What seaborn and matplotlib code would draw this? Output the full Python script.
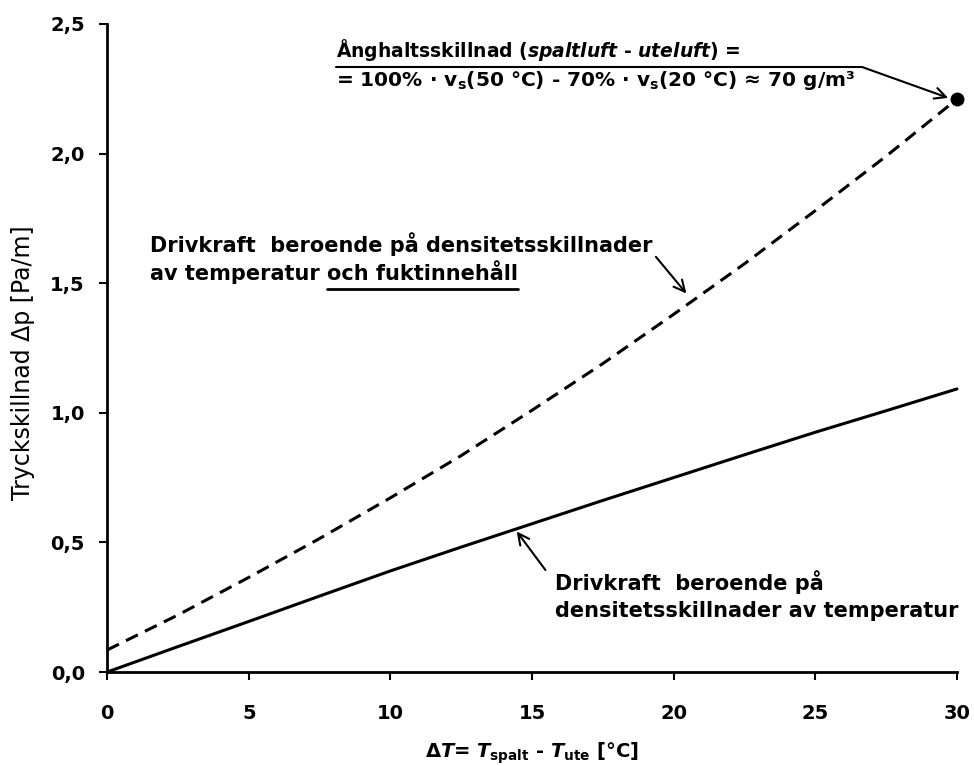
import matplotlib
matplotlib.use("Agg")
import matplotlib.pyplot as plt
import seaborn as sns
import pandas as pd
from matplotlib.lines import Line2D

# ---- data ----
delta_T = [0, 2.5, 5, 7.5, 10, 12.5, 15, 17.5, 20, 22.5, 25, 27.5, 30]
dp_temp = [0.0, 0.098, 0.195, 0.293, 0.390, 0.482, 0.572, 0.662, 0.750, 0.838, 0.925, 1.008, 1.092]
dp_temp_moist = [0.085, 0.220, 0.365, 0.515, 0.672, 0.835, 1.010, 1.190, 1.380, 1.575, 1.780, 1.990, 2.210]
end_point_x = [30]
end_point_y = [2.21]

x_ticks = [0, 5, 10, 15, 20, 25, 30]
x_tick_labels = ["0", "5", "10", "15", "20", "25", "30"]
y_ticks = [0.0, 0.5, 1.0, 1.5, 2.0, 2.5]
y_tick_labels = ["0,0", "0,5", "1,0", "1,5", "2,0", "2,5"]

sns.set_theme(style="white")
plt.rcParams['font.family'] = ['DejaVu Sans']
plt.rcParams['text.color'] = 'black'
plt.rcParams['axes.labelcolor'] = 'black'
plt.rcParams['mathtext.fontset'] = 'custom'
plt.rcParams['mathtext.rm'] = 'DejaVu Sans:bold'
plt.rcParams['mathtext.it'] = 'DejaVu Sans:bold:italic'
plt.rcParams['mathtext.bf'] = 'DejaVu Sans:bold'

df = pd.DataFrame({"dT": delta_T, "temp": dp_temp, "moist": dp_temp_moist})

fig = plt.figure(figsize=(9.74, 7.66), dpi=100)
ax = fig.add_axes([0.110, 0.1227, 0.8725, 0.846])

sns.lineplot(data=df, x="dT", y="temp", ax=ax, color="black", linewidth=2.2)
sns.lineplot(data=df, x="dT", y="moist", ax=ax, color="black", linewidth=2.2,
             linestyle=(0, (4.3, 2.6)))
ax.plot(end_point_x, end_point_y, "o", color="black", markersize=9, clip_on=False)

ax.set_xlim(0, 30)
ax.set_ylim(0, 2.5)
for ln in ax.lines:
    ln.set_clip_on(False)

sns.despine(ax=ax)
for s in ('left', 'bottom'):
    ax.spines[s].set_linewidth(2)
    ax.spines[s].set_color('black')

ax.set_xticks(x_ticks)
ax.set_xticklabels(x_tick_labels, fontsize=14, fontweight='bold')
ax.set_yticks(y_ticks)
ax.set_yticklabels(y_tick_labels, fontsize=14, fontweight='bold')
ax.tick_params(axis='x', direction='out', length=6, width=1.5, pad=17, color='black',
               labelcolor='black', bottom=True)
ax.tick_params(axis='y', direction='out', length=6, width=1.5, pad=10, color='black',
               labelcolor='black', left=True)

ax.set_xlabel(r"Δ$\mathit{T}$= $\mathit{T}_{\mathrm{spalt}}$ - $\mathit{T}_{\mathrm{ute}}$ [°C]",
              fontsize=14, fontweight='bold', color='black')
ax.xaxis.set_label_coords(0.5, -0.105)
ax.set_ylabel("Tryckskillnad Δp [Pa/m]", fontsize=17, color='black')
ax.yaxis.set_label_coords(-0.085, 0.477)

fs = 15
# annotation: moisture + temperature
ax.text(1.52, 1.649, "Drivkraft  beroende på densitetsskillnader", fontsize=fs,
        fontweight='bold', va='center', ha='left')
t_a = ax.text(1.52, 1.537, "av temperatur ", fontsize=fs,
              fontweight='bold', va='center', ha='left')
fig.canvas.draw()
r = fig.canvas.get_renderer()
bb = t_a.get_window_extent(r)
x_next = ax.transData.inverted().transform((bb.x1, bb.y0))[0]
t_b = ax.text(x_next, 1.537, "och fuktinnehåll", fontsize=fs,
              fontweight='bold', va='center', ha='left')
fig.canvas.draw()
bb2 = t_b.get_window_extent(r)
x0d, _ = ax.transData.inverted().transform((bb2.x0, bb2.y0))
x1d, _ = ax.transData.inverted().transform((bb2.x1, bb2.y0))
ax.add_line(Line2D([x0d, x1d], [1.478, 1.478], color='black', linewidth=2))
ax.annotate("", xy=(20.51, 1.452), xytext=(19.31, 1.61),
            arrowprops=dict(arrowstyle="->", color="black", lw=1.5, mutation_scale=20))

# annotation: temperature only
ax.text(15.8, 0.347, "Drivkraft  beroende på", fontsize=fs, fontweight='bold',
        va='center', ha='left')
ax.text(15.8, 0.235, "densitetsskillnader av temperatur", fontsize=fs,
        fontweight='bold', va='center', ha='left')
ax.annotate("", xy=(14.40, 0.551), xytext=(15.53, 0.385),
            arrowprops=dict(arrowstyle="->", color="black", lw=1.5, mutation_scale=20))

# annotation: vapour content difference
ax.text(8.08, 2.398, "Ånghaltsskillnad ($\\mathit{spaltluft\\ \u2010\\ uteluft}$) =", fontsize=13.5,
        fontweight='bold', va='center', ha='left')
ax.text(8.08, 2.282, r"= 100% · $\mathrm{v}_{\mathrm{s}}$(50 °C) - 70% · $\mathrm{v}_{\mathrm{s}}$(20 °C) ≈ 70 g/m³",
        fontsize=14.5, fontweight='bold', va='center', ha='left')
ax.add_line(Line2D([8.08, 26.65], [2.334, 2.334], color='black', linewidth=1.5, clip_on=False))
ax.annotate("", xy=(29.69, 2.215), xytext=(26.65, 2.334),
            arrowprops=dict(arrowstyle="->", color="black", lw=1.5, mutation_scale=20,
                            shrinkA=0, shrinkB=0))

fig.savefig("out.png", dpi=100, facecolor="white")
